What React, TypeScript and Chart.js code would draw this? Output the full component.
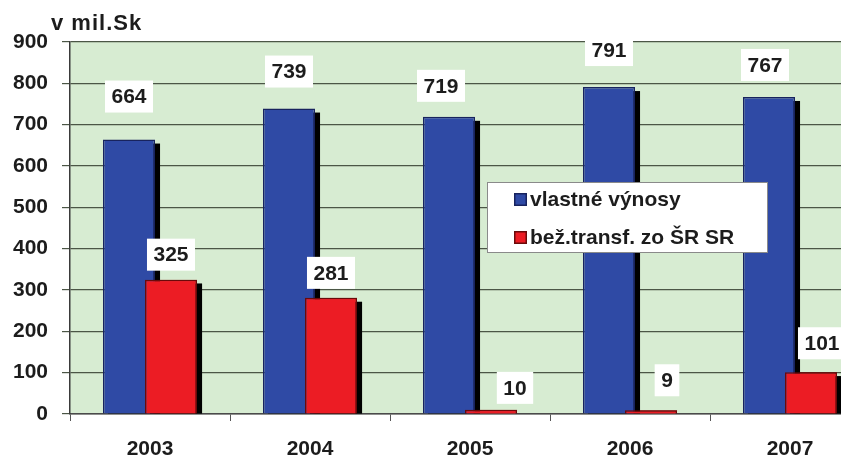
import React, { useEffect, useRef } from "react";
import { Chart, registerables } from "chart.js";

Chart.register(...registerables);

const categories = ["2003", "2004", "2005", "2006", "2007"];
const ownRevenue = [664, 739, 719, 791, 767];
const transfers = [325, 281, 10, 9, 101];
const seriesNames = ["vlastné výnosy", "bež.transf. zo ŠR SR"];
const yTicks = [0, 100, 200, 300, 400, 500, 600, 700, 800, 900];
const unitLabel = "v mil.Sk";

const FONT = "'Liberation Sans', Arial, sans-serif";
const BLUE = "#2f4aa5";
const BLUE_BORDER = "#18235e";
const RED = "#ec1c24";
const RED_BORDER = "#6a0a0a";
const TEXT = "#1c1c1c";

// label placement tweaks (per dataset, per point)
const labelDx = [
  [0, 0, -8, 0, -4],
  [0, 0, 24, 16, 11],
];
const labelDy = [
  [-43, -37, -31, -37, -32],
  [-25, -25, -22, -30, -29],
];

const bgPlugin = {
  id: "bgPlugin",
  beforeDraw(chart: any) {
    const { ctx, chartArea } = chart;
    ctx.save();
    ctx.fillStyle = "#ffffff";
    ctx.fillRect(0, 0, chart.width, chart.height);
    ctx.fillStyle = "#d7ecd2";
    ctx.fillRect(chartArea.left, chartArea.top, chartArea.right - chartArea.left, chartArea.bottom - chartArea.top);
    ctx.restore();
  },
};

function drawShadows(chart: any, meta: any) {
  const { ctx, chartArea } = chart;
  ctx.save();
  ctx.beginPath();
  ctx.rect(chartArea.left, chartArea.top, chartArea.right - chartArea.left, chartArea.bottom - chartArea.top);
  ctx.clip();
  ctx.fillStyle = "#000000";
  meta.data.forEach((bar: any) => {
    const p = bar.getProps(["x", "y", "base", "width"], true);
    const left = p.x - p.width / 2 + 5;
    const top = Math.min(p.y, p.base) + 4;
    const bottom = Math.max(p.y, p.base);
    if (bottom > top) ctx.fillRect(left, top, p.width, bottom - top);
  });
  ctx.restore();
}

// Chart.js paints the first dataset last; the red series must lie on top of
// the blue one, so it is painted again (shadow + bars) after all datasets.
const shadowPlugin = {
  id: "shadowPlugin",
  beforeDatasetDraw(chart: any, args: any) {
    drawShadows(chart, args.meta);
  },
  afterDatasetsDraw(chart: any) {
    const meta = chart.getDatasetMeta(1);
    drawShadows(chart, meta);
    const { ctx, chartArea } = chart;
    ctx.save();
    ctx.beginPath();
    ctx.rect(chartArea.left, chartArea.top, chartArea.right - chartArea.left, chartArea.bottom - chartArea.top);
    ctx.clip();
    meta.data.forEach((bar: any) => bar.draw(ctx, chartArea));
    ctx.restore();
  },
};

const labelsPlugin = {
  id: "labelsPlugin",
  afterDatasetsDraw(chart: any) {
    const { ctx } = chart;
    ctx.save();
    ctx.font = `bold 21px ${FONT}`;
    ctx.textAlign = "center";
    ctx.textBaseline = "middle";
    chart.data.datasets.forEach((ds: any, di: number) => {
      const meta = chart.getDatasetMeta(di);
      meta.data.forEach((bar: any, i: number) => {
        const text = String(ds.data[i]);
        const x = bar.x + labelDx[di][i];
        const y = bar.y + labelDy[di][i];
        const w = ctx.measureText(text).width + 13;
        const h = 32;
        ctx.fillStyle = "#ffffff";
        ctx.fillRect(x - w / 2, y - h / 2, w, h);
        ctx.fillStyle = TEXT;
        ctx.fillText(text, x, y + 1);
      });
    });
    ctx.textAlign = "left";
    ctx.font = `bold 22px ${FONT}`;
    try {
      (ctx as any).letterSpacing = "1px";
    } catch (e) {}
    ctx.fillText(unitLabel, 51, 24);
    ctx.restore();
  },
};

const legendPlugin = {
  id: "legendPlugin",
  afterDraw(chart: any) {
    const { ctx } = chart;
    ctx.save();
    const bx = 487, by = 182, bw = 280, bh = 70;
    ctx.fillStyle = "#ffffff";
    ctx.fillRect(bx, by, bw, bh);
    ctx.strokeStyle = "#8a8a8a";
    ctx.lineWidth = 1;
    ctx.strokeRect(bx + 0.5, by + 0.5, bw, bh);
    const colors = [
      [BLUE, BLUE_BORDER],
      [RED, RED_BORDER],
    ];
    ctx.font = `bold 21px ${FONT}`;
    ctx.textBaseline = "middle";
    seriesNames.forEach((name, i) => {
      const cy = 199 + i * 38;
      ctx.fillStyle = colors[i][1];
      ctx.fillRect(514, cy - 6, 13, 13);
      ctx.fillStyle = colors[i][0];
      ctx.fillRect(515.5, cy - 4.5, 10, 10);
      ctx.fillStyle = TEXT;
      ctx.fillText(name, 530, cy + 1);
    });
    ctx.restore();
  },
};

export default function App() {
  const ref = useRef<HTMLCanvasElement>(null);
  useEffect(() => {
    if (!ref.current) return;
    const chart = new Chart(ref.current, {
      type: "bar",
      data: {
        labels: categories,
        datasets: [
          {
            label: seriesNames[0],
            data: ownRevenue,
            backgroundColor: BLUE,
            borderColor: BLUE_BORDER,
            borderWidth: 1.5,
            categoryPercentage: 0.525,
            barPercentage: 1.24,
          },
          {
            label: seriesNames[1],
            data: transfers,
            backgroundColor: RED,
            borderColor: RED_BORDER,
            borderWidth: 1.5,
            categoryPercentage: 0.525,
            barPercentage: 1.24,
          },
        ],
      },
      options: {
        responsive: false,
        animation: false,
        devicePixelRatio: 1,
        layout: { padding: { top: 42, right: 10, left: 0, bottom: 0 } },
        plugins: { legend: { display: false }, tooltip: { enabled: false } },
        scales: {
          x: {
            offset: true,
            grid: {
              offset: true,
              drawOnChartArea: false,
              drawTicks: true,
              tickLength: 7,
              color: "#555555",
            },
            border: { color: "#4a4a4a", width: 1.5 },
            ticks: {
              color: TEXT,
              font: { family: FONT, size: 21, weight: "bold" },
              padding: 16,
            },
            afterFit(scale: any) {
              scale.height = 48;
            },
          },
          y: {
            min: 0,
            max: 900,
            afterBuildTicks(scale: any) {
              scale.ticks = yTicks.map((v) => ({ value: v }));
            },
            grid: {
              color: "#4b5646",
              lineWidth: 1.2,
              tickLength: 8,
            },
            border: { color: "#3a3a3a", width: 1.5 },
            ticks: {
              color: TEXT,
              font: { family: FONT, size: 21, weight: "bold" },
              padding: 14,
            },
            afterFit(scale: any) {
              scale.width = 70;
            },
          },
        },
      },
      plugins: [bgPlugin, shadowPlugin, labelsPlugin, legendPlugin],
    } as any);
    return () => chart.destroy();
  }, []);
  return (
    <div
      style={{
        position: "fixed",
        left: 0,
        top: 0,
        width: 841,
        height: 462,
        overflow: "hidden",
        background: "#fff",
      }}
    >
      <canvas ref={ref} width={880} height={462} style={{ width: 880, height: 462, display: "block" }} />
    </div>
  );
}
